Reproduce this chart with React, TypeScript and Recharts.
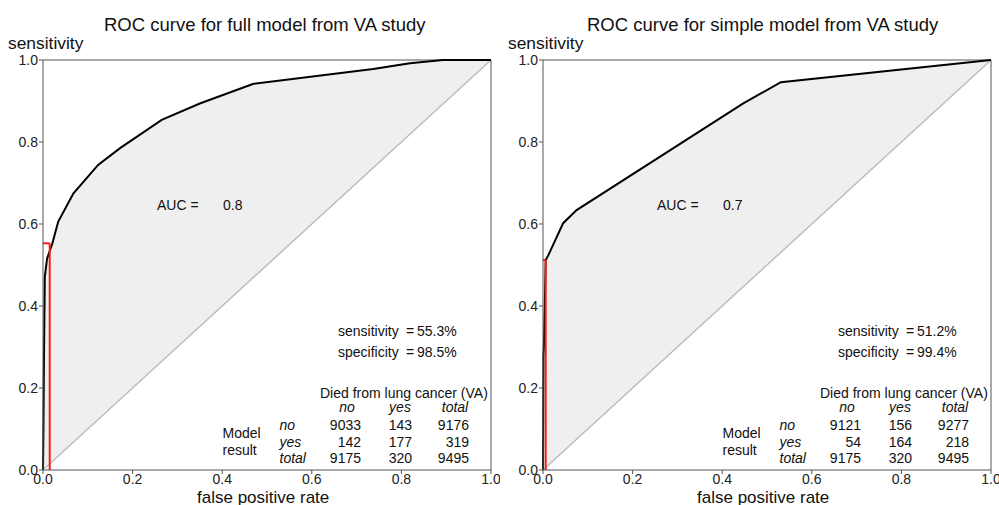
import React from 'react';
import { ComposedChart, Area, Line, XAxis, YAxis, ReferenceLine } from 'recharts';

// full model ROC points
const fullFpr = [0, 0.001, 0.002, 0.004, 0.009, 0.021, 0.034, 0.068, 0.123, 0.172, 0.265, 0.35, 0.47, 0.737, 0.819, 0.893, 1];
const fullSens = [0, 0.1, 0.25, 0.47, 0.515, 0.553, 0.606, 0.675, 0.744, 0.785, 0.854, 0.894, 0.942, 0.978, 0.992, 1, 1];

// simple model ROC points
const simpleFpr = [0, 0.001, 0.002, 0.004, 0.006, 0.012, 0.045, 0.075, 0.447, 0.531, 1];
const simpleSens = [0, 0.28, 0.3, 0.4, 0.512, 0.524, 0.602, 0.634, 0.894, 0.946, 1];

const ticks = [0, 0.2, 0.4, 0.6, 0.8, 1];

const fullCut = { fpr: 0.015, sens: 0.553 };
const simpleCut = { fpr: 0.006, sens: 0.512 };

const colHeads = ['no', 'yes', 'total'];
const fullTable = [
  ['no', '9033', '143', '9176'],
  ['yes', '142', '177', '319'],
  ['total', '9175', '320', '9495'],
];
const simpleTable = [
  ['no', '9121', '156', '9277'],
  ['yes', '54', '164', '218'],
  ['total', '9175', '320', '9495'],
];

const FONT = '"Liberation Sans", Arial, sans-serif';

interface PanelProps {
  left: number;
  title: string;
  titleX: number;
  fpr: number[];
  sens: number[];
  cut: { fpr: number; sens: number };
  auc: string;
  sensTxt: string;
  specTxt: string;
  table: string[][];
}

const abs = (x: number, y: number, extra: React.CSSProperties = {}): React.CSSProperties => ({
  position: 'absolute',
  left: x,
  top: y,
  whiteSpace: 'nowrap',
  lineHeight: 1,
  ...extra,
});

const Panel: React.FC<PanelProps> = ({ left, title, titleX, fpr, sens, cut, auc, sensTxt, specTxt, table }) => {
  const data = fpr.map((x, i) => ({ x, sens: sens[i], band: [x, sens[i]] }));
  const colRight = [361, 412, 469];
  const headCenter = [347, 400, 455];
  const rowTop = [418, 434.5, 450.5];
  return (
    <div style={{ position: 'absolute', left, top: 0, width: 500, height: 505, fontFamily: FONT, color: '#111' }}>
      <ComposedChart width={500} height={505} data={data} margin={{ top: 60, right: 9, bottom: 0, left: 0 }}>
        <XAxis
          type="number"
          dataKey="x"
          domain={[0, 1]}
          ticks={ticks}
          tickFormatter={(v: number) => v.toFixed(1)}
          height={35}
          tickSize={4}
          tickMargin={0}
          stroke="#555"
          tick={{ fill: '#222', fontSize: 14, fontFamily: FONT }}
          interval={0}
        />
        <YAxis
          type="number"
          domain={[0, 1]}
          ticks={ticks}
          tickFormatter={(v: number) => v.toFixed(1)}
          width={43}
          tickSize={4}
          tickMargin={1}
          stroke="#555"
          tick={{ fill: '#222', fontSize: 14, fontFamily: FONT }}
          interval={0}
        />
        <Area type="linear" dataKey="band" stroke="none" fill="#efefef" fillOpacity={1} isAnimationActive={false} />
        <ReferenceLine y={1} stroke="#555" strokeWidth={1} />
        <ReferenceLine x={1} stroke="#555" strokeWidth={1} />
        <ReferenceLine segment={[{ x: 0, y: 0 }, { x: 1, y: 1 }]} stroke="#bdbdbd" strokeWidth={1.5} />
        <Line type="linear" dataKey="sens" stroke="#000" strokeWidth={2} dot={false} isAnimationActive={false} />
        <ReferenceLine segment={[{ x: 0, y: cut.sens }, { x: cut.fpr, y: cut.sens }]} stroke="#ff1a1a" strokeWidth={2} />
        <ReferenceLine segment={[{ x: cut.fpr, y: 0 }, { x: cut.fpr, y: cut.sens }]} stroke="#ff1a1a" strokeWidth={2} />
      </ComposedChart>

      <div style={abs(titleX, 16, { fontSize: 18.5 })}>{title}</div>
      <div style={abs(8, 35, { fontSize: 17.4 })}>sensitivity</div>
      <div style={abs(197, 489, { fontSize: 17 })}>false positive rate</div>

      <div style={abs(157, 198, { fontSize: 14 })}>AUC =</div>
      <div style={abs(223, 198, { fontSize: 14 })}>{auc}</div>

      <div style={abs(338, 324, { fontSize: 14 })}>sensitivity</div>
      <div style={abs(406, 324, { fontSize: 14 })}>=</div>
      <div style={abs(417, 324, { fontSize: 14 })}>{sensTxt}</div>
      <div style={abs(338, 345, { fontSize: 14 })}>specificity</div>
      <div style={abs(406, 345, { fontSize: 14 })}>=</div>
      <div style={abs(417, 345, { fontSize: 14 })}>{specTxt}</div>

      <div style={abs(320, 385.5, { fontSize: 14 })}>Died from lung cancer (VA)</div>
      {colHeads.map((h, i) => (
        <div key={h} style={abs(headCenter[i] - 30, 400, { fontSize: 14, fontStyle: 'italic', width: 60, textAlign: 'center' })}>{h}</div>
      ))}
      <div style={abs(222.5, 426, { fontSize: 14 })}>Model</div>
      <div style={abs(222.5, 442.5, { fontSize: 14 })}>result</div>
      {table.map((row, r) => (
        <React.Fragment key={r}>
          <div style={abs(279.5, rowTop[r], { fontSize: 14, fontStyle: 'italic' })}>{row[0]}</div>
          {row.slice(1).map((v, c) => (
            <div key={c} style={abs(colRight[c] - 60, rowTop[r], { fontSize: 14, width: 60, textAlign: 'right' })}>{v}</div>
          ))}
        </React.Fragment>
      ))}
    </div>
  );
};

export default function App() {
  return (
    <div style={{ position: 'fixed', left: 0, top: 0, width: 999, height: 505, background: '#fff', overflow: 'hidden' }}>
      <Panel
        left={0}
        title="ROC curve for full model from VA study"
        titleX={104}
        fpr={fullFpr}
        sens={fullSens}
        cut={fullCut}
        auc="0.8"
        sensTxt="55.3%"
        specTxt="98.5%"
        table={fullTable}
      />
      <Panel
        left={500}
        title="ROC curve for simple model from VA study"
        titleX={87}
        fpr={simpleFpr}
        sens={simpleSens}
        cut={simpleCut}
        auc="0.7"
        sensTxt="51.2%"
        specTxt="99.4%"
        table={simpleTable}
      />
    </div>
  );
}
